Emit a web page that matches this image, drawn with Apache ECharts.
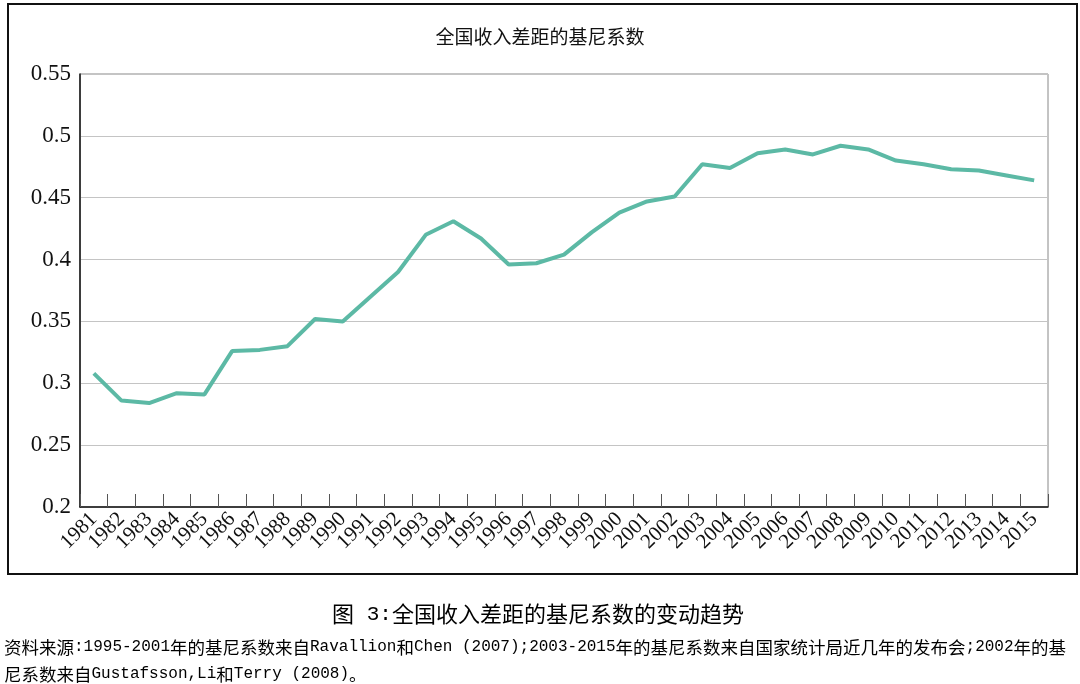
<!DOCTYPE html>
<html>
<head>
<meta charset="utf-8">
<script src="https://cdn.jsdelivr.net/npm/echarts@6/dist/echarts.min.js"></script>
<style>
html,body{margin:0;padding:0;background:#fff;}
#chart{width:1080px;height:684px;}
</style>
</head>
<body>
<div id="chart"></div>
<script>
var years = ['1981','1982','1983','1984','1985','1986','1987','1988','1989','1990',
  '1991','1992','1993','1994','1995','1996','1997','1998','1999','2000',
  '2001','2002','2003','2004','2005','2006','2007','2008','2009','2010',
  '2011','2012','2013','2014','2015'];
var gini = [0.308,0.286,0.284,0.292,0.291,0.326,0.327,0.330,0.352,0.350,
  0.370,0.390,0.420,0.431,0.417,0.396,0.397,0.404,0.422,0.438,
  0.447,0.451,0.477,0.474,0.486,0.489,0.485,0.492,0.489,0.480,
  0.477,0.473,0.472,0.468,0.464];
var chartTitle = '全国收入差距的基尼系数';
var captionText = '图 3:全国收入差距的基尼系数的变动趋势';
var noteLine1 = '资料来源:1995-2001年的基尼系数来自Ravallion和Chen (2007);2003-2015年的基尼系数来自国家统计局近几年的发布会;2002年的基';
var noteLine2 = '尼系数来自Gustafsson,Li和Terry (2008)。';

function toRich(s){
  return s.replace(/([\x20-\x7E]+)|([^\x20-\x7E]+)/g, function(m,a,b){
    return a ? '{l|' + a + '}' : '{c|' + b + '}';
  });
}
var noteRich = {
  c: {fontFamily:'Noto Sans CJK SC', fontSize:17.5, color:'#111'},
  l: {fontFamily:'Liberation Mono', fontSize:16, color:'#111'}
};
var capRich = {
  c: {fontFamily:'Noto Sans CJK SC', fontSize:22, color:'#111'},
  l: {fontFamily:'Liberation Mono', fontSize:21, color:'#111'}
};

var chart = echarts.init(document.getElementById('chart'));
chart.setOption({
  backgroundColor:'#fff',
  animation:false,
  title:{
    text: chartTitle, left:'center', top:22,
    textStyle:{fontFamily:'Noto Sans CJK SC', fontSize:19, fontWeight:'normal', color:'#111'}
  },
  grid:{left:80, right:32, top:74, bottom:177, show:true, borderColor:'#888', borderWidth:1},
  xAxis:{
    type:'category', data:years, boundaryGap:true,
    axisLine:{lineStyle:{color:'#111', width:1.5}},
    axisTick:{show:true, inside:true, length:13, lineStyle:{color:'#555'}},
    axisLabel:{rotate:45, interval:0, margin:9, fontFamily:'Liberation Serif', fontSize:21, color:'#111'},
    splitLine:{show:false}
  },
  yAxis:{
    type:'value', min:0.2, max:0.55, interval:0.05,
    axisLine:{show:true, lineStyle:{color:'#111', width:1.5}},
    axisTick:{show:false},
    axisLabel:{margin:9, fontFamily:'Liberation Serif', fontSize:23, color:'#111',
      formatter:function(v){ return String(+v.toFixed(2)); }},
    splitLine:{lineStyle:{color:'#c4c4c4', width:1}}
  },
  series:[{
    type:'line', data:gini, symbol:'none', smooth:false,
    lineStyle:{color:'#5cb9a5', width:4}
  }],
  graphic:[
    {type:'rect', shape:{x:8, y:4, width:1069, height:570}, style:{fill:'none', stroke:'#111', lineWidth:2}, silent:true},
    {type:'text', x:538, y:614, style:{text:toRich(captionText), rich:capRich, align:'center', verticalAlign:'middle'}},
    {type:'text', x:4, y:647, style:{text:toRich(noteLine1), rich:noteRich, align:'left', verticalAlign:'middle'}},
    {type:'text', x:4, y:674, style:{text:toRich(noteLine2), rich:noteRich, align:'left', verticalAlign:'middle'}}
  ]
});
</script>
</body>
</html>
